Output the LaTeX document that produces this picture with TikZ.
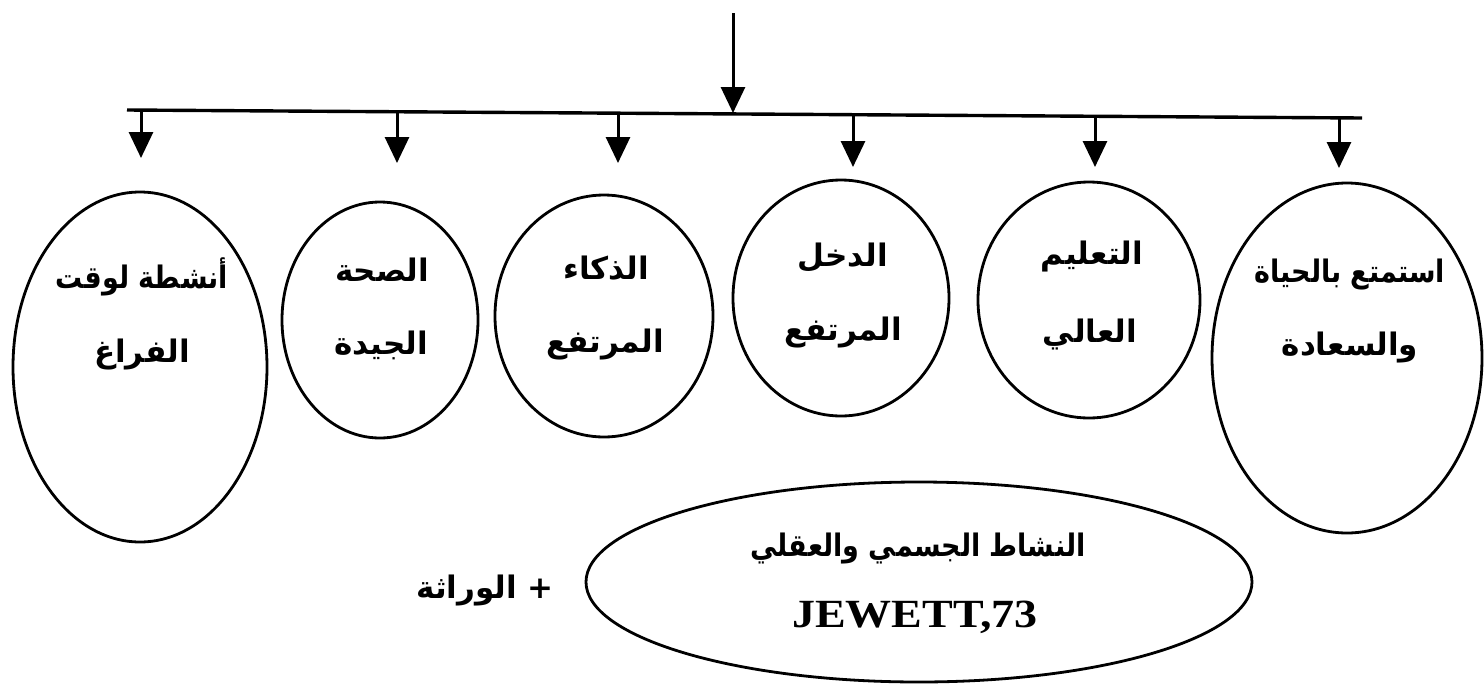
\documentclass[tikz,border=0pt]{standalone}
\usepackage{fontspec}
\setmainfont{Liberation Serif}
\usetikzlibrary{shapes.geometric,arrows.meta}
\TeXXeTstate=1
\newfontfamily\arabicfont[Script=Arabic]{DejaVu Sans}
\newcommand\narrowtxt[1]{\scalebox{0.87}[1]{#1}}
\begin{document}
\begin{tikzpicture}[x=1pt,y=-1pt,
  ln/.style={line width=3.4pt},
  arr/.style={line width=3pt,-{Triangle[length=26pt,width=24pt]}},
  bub/.style={draw,line width=2.8pt,ellipse,inner sep=0pt},
  lbl/.style={font=\arabicfont\bfseries\fontsize{31}{31}\selectfont,inner sep=0pt},
  ref/.style={font=\bfseries\fontsize{40}{40}\selectfont,inner sep=0pt}]
\useasboundingbox (0,0) rectangle (1484,686);
\fill[white] (0,0) rectangle (1484,686);
% bar and arrows
\coordinate (top) at (733,13);
\coordinate (hl) at (127,110);
\coordinate (hr) at (1362,118);
\coordinate (hm) at (733,113);
\draw[ln] (hl) -- (hr);
\draw[arr] (top) -- (hm);
\coordinate (b1) at (141,110.1);
\coordinate (b2) at (397,111.7);
\coordinate (b3) at (618,113.2);
\coordinate (b4) at (853,114.7);
\coordinate (b5) at (1095,116.3);
\coordinate (b6) at (1339,117.9);
\coordinate (t1) at (141,158);
\coordinate (t2) at (397,163);
\coordinate (t3) at (618,163);
\coordinate (t4) at (853,167);
\coordinate (t5) at (1095,167);
\coordinate (t6) at (1339,168);
\foreach \i in {1,...,6} {\draw[arr] (b\i) -- (t\i);}
% bubbles
\node[bub,minimum width=254pt,minimum height=350pt] (c1) at (140,367) {};
\node[bub,minimum width=196pt,minimum height=236pt] (c2) at (380,320) {};
\node[bub,minimum width=218pt,minimum height=242pt] (c3) at (604,316) {};
\node[bub,minimum width=216pt,minimum height=236pt] (c4) at (841,298) {};
\node[bub,minimum width=222pt,minimum height=236pt] (c5) at (1089,300) {};
\node[bub,minimum width=270pt,minimum height=350pt] (c6) at (1347,358) {};
\node[bub,minimum width=666pt,minimum height=200pt] (c7) at (919,582) {};
% labels
\node[lbl] (l1a) at (142,277) {\narrowtxt{\beginR أنشطة لوقت\endR}};
\node[lbl] (l1b) at (142,355) {\beginR الفراغ\endR};
\node[lbl] (l2a) at (382,270) {\beginR الصحة\endR};
\node[lbl] (l2b) at (381,345) {\beginR الجيدة\endR};
\node[lbl] (l3a) at (606,268) {\beginR الذكاء\endR};
\node[lbl] (l3b) at (605,345) {\beginR المرتفع\endR};
\node[lbl] (l4a) at (843,258) {\beginR الدخل\endR};
\node[lbl] (l4b) at (843,333) {\beginR المرتفع\endR};
\node[lbl] (l5a) at (1092,257) {\beginR التعليم\endR};
\node[lbl] (l5b) at (1090,335) {\beginR العالي\endR};
\node[lbl] (l6a) at (1350,275) {\narrowtxt{\beginR استمتع بالحياة\endR}};
\node[lbl] (l6b) at (1350,348) {\beginR والسعادة\endR};
\node[lbl] (l7a) at (918,548) {\narrowtxt{\beginR النشاط الجسمي والعقلي\endR}};
\node[ref] (l7b) at (915,617) {\scalebox{1.15}[1]{JEWETT,73}};
\node[lbl] (l8) at (485,590) {\beginR + الوراثة\endR};
\end{tikzpicture}
\end{document}
